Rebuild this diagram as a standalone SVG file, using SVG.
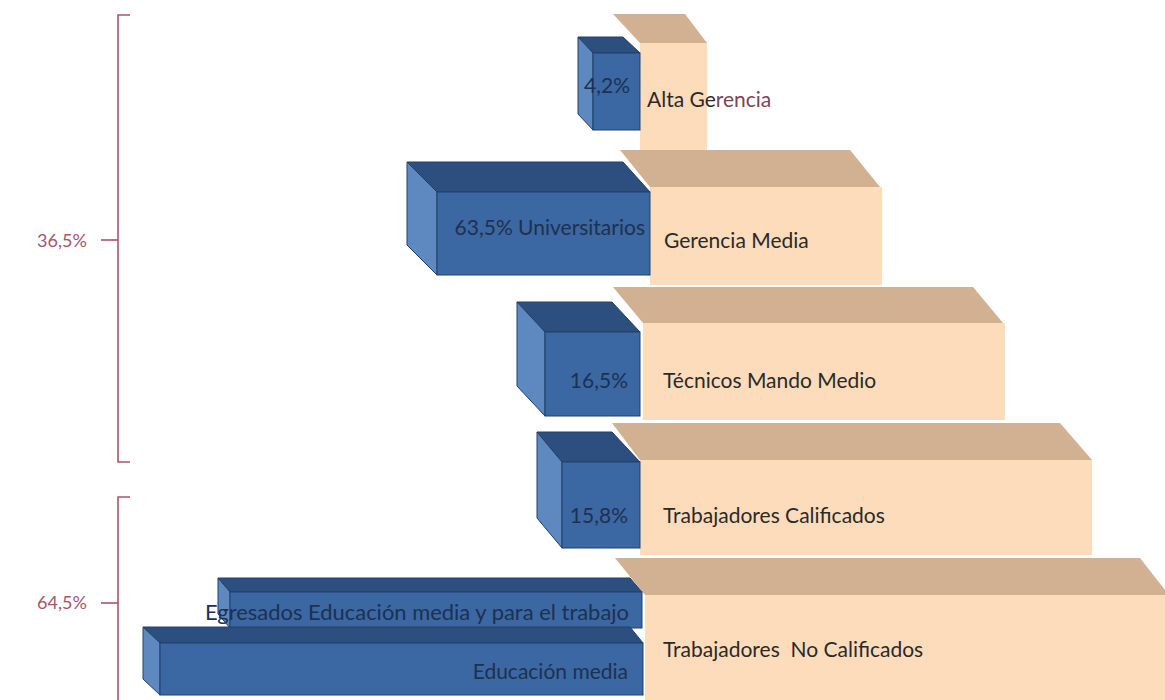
<svg xmlns="http://www.w3.org/2000/svg" width="1165" height="700" viewBox="0 0 1165 700">
<style>
.ft{fill:#d2b092}
.ff{fill:#fddcbb}
.bt{fill:#2c4f7f;stroke:#22406a;stroke-width:1}
.bs{fill:#5d88c0;stroke:#22406a;stroke-width:1}
.bf{fill:#3b67a2;stroke:#22406a;stroke-width:1}
.lb{font-family:Lato,"Liberation Sans",sans-serif;font-size:21px;fill:#2a2a2a}
.lv{font-family:Lato,"Liberation Sans",sans-serif;font-size:21px;fill:#1d3150}
.pc{font-family:Lato,"Liberation Sans",sans-serif;font-size:18px;fill:#a5566a}
.br{fill:none;stroke:#a5566a;stroke-width:1.6}
</style>
<rect width="1165" height="700" fill="#ffffff"/>
<g id="bar-alta-gerencia">
<polygon class="ft" points="613,14 685,14 707,43 640,43"/>
<rect class="ff" x="640" y="43" width="67" height="107"/>
</g>
<g id="bar-gerencia-media">
<polygon class="ft" points="620,150 850,150 880,187 650,187"/>
<rect class="ff" x="650" y="187" width="232" height="98"/>
</g>
<g id="bar-tecnicos">
<polygon class="ft" points="613,287 973,287 1003,323 643,323"/>
<rect class="ff" x="643" y="323" width="362" height="97"/>
</g>
<g id="bar-calificados">
<polygon class="ft" points="612,423 1060,423 1092,460 640,460"/>
<rect class="ff" x="640" y="460" width="452" height="95"/>
</g>
<g id="bar-no-calificados">
<polygon class="ft" points="615,558 1140,558 1165,590 1165,595 645,595"/>
<rect class="ff" x="645" y="595" width="520" height="105"/>
</g>
<g id="blue-4-2">
<polygon class="bt" points="578,37 623,37 640,53 593,53"/>
<polygon class="bs" points="578,37 593,53 593,130 578,114"/>
<rect class="bf" x="593" y="53" width="47" height="77"/>
<text class="lv" x="630" y="93" text-anchor="end" font-size="20">4,2%</text>
</g>
<g id="blue-63-5">
<polygon class="bt" points="407,162 623,162 650,192 437,192"/>
<polygon class="bs" points="407,162 437,192 437,275 407,245"/>
<rect class="bf" x="437" y="192" width="213" height="83"/>
<text class="lv" x="645" y="235" text-anchor="end">63,5% Universitarios</text>
</g>
<g id="blue-16-5">
<polygon class="bt" points="517,302 612,302 640,332 545,332"/>
<polygon class="bs" points="517,302 545,332 545,416 517,386"/>
<rect class="bf" x="545" y="332" width="95" height="84"/>
<text class="lv" x="628" y="388" text-anchor="end">16,5%</text>
</g>
<g id="blue-15-8">
<polygon class="bt" points="537,432 612,432 640,462 562,462"/>
<polygon class="bs" points="537,432 562,462 562,548 537,518"/>
<rect class="bf" x="562" y="462" width="78" height="86"/>
<text class="lv" x="628" y="523" text-anchor="end">15,8%</text>
</g>
<g id="blue-egresados">
<polygon class="bt" points="218,578 630,578 642,592 230,592"/>
<polygon class="bs" points="218,578 230,592 230,628 218,614"/>
<rect class="bf" x="230" y="592" width="412" height="36"/>
<text class="lv" x="629" y="620" text-anchor="end" textLength="424" lengthAdjust="spacingAndGlyphs">Egresados Educación media y para el trabajo</text>
</g>
<g id="blue-educacion-media">
<polygon class="bt" points="143,627 630,627 643,643 160,643"/>
<polygon class="bs" points="143,627 160,643 160,695 143,679"/>
<rect class="bf" x="160" y="643" width="483" height="52"/>
<text class="lv" x="628" y="679" text-anchor="end">Educación media</text>
</g>
<g id="labels">
<text class="lb" x="647" y="107">Alta Ge<tspan fill="#7a4558">rencia</tspan></text>
<text class="lb" x="664" y="248">Gerencia Media</text>
<text class="lb" x="663" y="388">Técnicos Mando Medio</text>
<text class="lb" x="663" y="523">Trabajadores Calificados</text>
<text class="lb" x="663" y="657" xml:space="preserve">Trabajadores  No Calificados</text>
</g>
<g id="brackets">
<path class="br" d="M130,15 H118 V462 H130"/>
<path class="br" d="M101,240 H118"/>
<path class="br" d="M130,497 H118 V700"/>
<path class="br" d="M101,603 H118"/>
<text class="pc" x="37" y="247">36,5%</text>
<text class="pc" x="37" y="609">64,5%</text>
</g>
</svg>
